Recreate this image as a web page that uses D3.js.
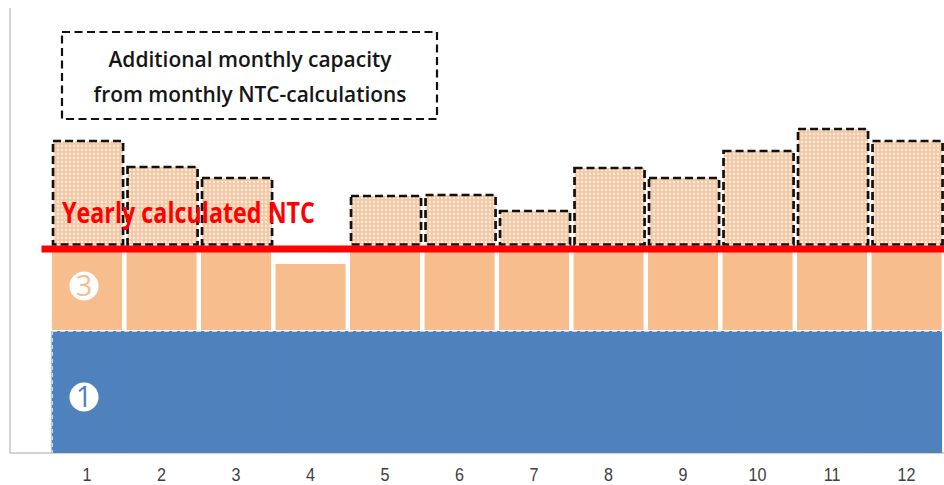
<!DOCTYPE html>
<html>
<head>
<meta charset="utf-8">
<script src="https://cdn.jsdelivr.net/npm/d3@7/dist/d3.min.js"></script>
<style>
  html, body { margin: 0; padding: 0; background: #ffffff; }
  svg { display: block; }
</style>
</head>
<body>
<script>
// Months on the x axis
const months = ["1", "2", "3", "4", "5", "6", "7", "8", "9", "10", "11", "12"];

// Capacity component ① (bottom block), per month
const baseCapacity = [122, 122, 122, 122, 122, 122, 122, 122, 122, 122, 122, 122];

// Capacity component ③ stacked on top of ①, per month
const component3 = [79, 79, 79, 67, 79, 79, 79, 79, 79, 79, 79, 79];

// Yearly calculated NTC level
const yearlyNTC = 204;

// Monthly NTC results; months without additional capacity are null
const monthlyNTC = [312, 286, 275, null, 257, 258, 242, 285, 275, 302, 324, 312];

// Text
const boxLines = ["Additional monthly capacity", "from monthly NTC-calculations"];
const ntcLabel = "Yearly calculated NTC";

const W = 944, H = 485;
const colors = {
  blue: "#4F81BD",
  orange: "#F7BD8D",
  red: "#FF0000",
  frame: "#C4C4C4",
  tick: "#404040"
};

const svg = d3.select("body").append("svg")
  .attr("width", W).attr("height", H);

const defs = svg.append("defs");
const pat = defs.append("pattern")
  .attr("id", "dots")
  .attr("patternUnits", "userSpaceOnUse")
  .attr("width", 4).attr("height", 4);
pat.append("rect").attr("width", 4).attr("height", 4).attr("fill", "#F7C6A0");
pat.append("circle").attr("cx", 2).attr("cy", 2).attr("r", 1.15).attr("fill", "#FFFFFF").attr("opacity", 0.8);
pat.append("circle").attr("cx", 0).attr("cy", 0).attr("r", 0.6).attr("fill", "#FFFFFF").attr("opacity", 0.45);
pat.append("circle").attr("cx", 4).attr("cy", 4).attr("r", 0.6).attr("fill", "#FFFFFF").attr("opacity", 0.45);

// Scales
const x = d3.scaleBand()
  .domain(months)
  .range([49.8, 943.8])
  .paddingInner(0.06)
  .paddingOuter(0.03);

const y = d3.scaleLinear()
  .domain([0, 445])
  .range([453, 8]);

const step = x.step();
const bw = x.bandwidth();

// Frame (left and bottom lines)
svg.append("line")
  .attr("x1", 10).attr("x2", 10)
  .attr("y1", y(445)).attr("y2", y(0))
  .attr("stroke", colors.frame).attr("stroke-width", 1.5);
svg.append("line")
  .attr("x1", 10).attr("x2", W)
  .attr("y1", y(0)).attr("y2", y(0))
  .attr("stroke", colors.frame).attr("stroke-width", 1.5);

// Component ① : one continuous block built from abutting monthly bars
const rows = months.map((m, i) => ({
  m, i,
  base: baseCapacity[i],
  c3: component3[i],
  monthly: monthlyNTC[i]
}));

svg.append("g").selectAll("rect")
  .data(rows)
  .join("rect")
  .attr("x", d => x(d.m) - 0.5)
  .attr("width", d => (d.i === rows.length - 1 ? bw : step) + 1)
  .attr("y", d => y(d.base))
  .attr("height", d => y(0) - y(d.base))
  .attr("fill", colors.blue);

// Dashed light border of block ①
const blockLeft = x(months[0]);
const blockRight = x(months[months.length - 1]) + bw;
svg.append("line")
  .attr("x1", blockLeft).attr("x2", blockRight)
  .attr("y1", y(baseCapacity[0])).attr("y2", y(baseCapacity[0]))
  .attr("stroke", "#EEF3FA").attr("stroke-width", 1.5)
  .attr("stroke-dasharray", "5,3");
svg.append("line")
  .attr("x1", blockLeft + 0.5).attr("x2", blockLeft + 0.5)
  .attr("y1", y(baseCapacity[0])).attr("y2", y(0))
  .attr("stroke", "#D6E1EF").attr("stroke-width", 1)
  .attr("stroke-dasharray", "4,3");

// Component ③ bars
svg.append("g").selectAll("rect")
  .data(rows)
  .join("rect")
  .attr("x", d => x(d.m))
  .attr("width", bw)
  .attr("y", d => y(d.base + d.c3))
  .attr("height", d => y(d.base) - y(d.base + d.c3) - 1)
  .attr("fill", colors.orange);

// Additional monthly capacity above the yearly NTC
const redWidth = 7;
const extra = rows.filter(d => d.monthly !== null && d.monthly > yearlyNTC);
svg.append("g").selectAll("rect")
  .data(extra)
  .join("rect")
  .attr("x", d => x(d.m) + 1)
  .attr("width", bw)
  .attr("y", d => y(d.monthly))
  .attr("height", d => y(yearlyNTC) - redWidth / 2 - 1 - y(d.monthly))
  .attr("fill", "url(#dots)")
  .attr("stroke", "#111111")
  .attr("stroke-width", 2.7)
  .attr("stroke-dasharray", "8,4");

// Yearly NTC line
svg.append("line")
  .attr("x1", 41.5).attr("x2", W)
  .attr("y1", y(yearlyNTC)).attr("y2", y(yearlyNTC))
  .attr("stroke", colors.red).attr("stroke-width", redWidth);

// Helper: fit a text element horizontally to a target width
function fitText(sel, cx, baseline, targetWidth) {
  const w = sel.node().getComputedTextLength();
  const s = targetWidth / w;
  sel.attr("x", 0).attr("y", 0)
    .attr("transform", `translate(${cx},${baseline}) scale(${s},1)`);
}

// Yearly NTC label
const ntcText = svg.append("text")
  .attr("text-anchor", "start")
  .attr("font-family", "'Open Sans', 'Noto Sans', sans-serif")
  .attr("font-weight", 700)
  .attr("font-size", 28)
  .attr("fill", colors.red)
  .text(ntcLabel);
fitText(ntcText, 62, 223, 253);

// Dashed annotation box
svg.append("rect")
  .attr("x", 62).attr("y", 32)
  .attr("width", 375).attr("height", 87)
  .attr("fill", "none")
  .attr("stroke", "#111111")
  .attr("stroke-width", 2.2)
  .attr("stroke-dasharray", "8,4.5");

const lineSpec = [
  { baseline: 67, width: 283 },
  { baseline: 102, width: 313 }
];
boxLines.forEach((t, i) => {
  const el = svg.append("text")
    .attr("text-anchor", "middle")
    .attr("font-family", "'Open Sans', 'Noto Sans', sans-serif")
    .attr("font-weight", 600)
    .attr("font-size", 21)
    .attr("fill", "#151515")
    .text(t);
  fitText(el, 250, lineSpec[i].baseline, lineSpec[i].width);
});

// Circled component markers
const markers = [
  { label: "3", cx: 84, cy: 286, color: colors.orange },
  { label: "1", cx: 84, cy: 397, color: colors.blue }
];
const mg = svg.append("g").selectAll("g")
  .data(markers)
  .join("g")
  .attr("transform", d => `translate(${d.cx},${d.cy})`);
mg.append("circle").attr("r", 14.5).attr("fill", "#FFFFFF");
mg.append("text")
  .attr("text-anchor", "middle")
  .attr("dy", "0.36em")
  .attr("font-family", "'Open Sans', 'Noto Sans', sans-serif")
  .attr("font-size", 29)
  .attr("fill", d => d.color)
  .text(d => d.label);

// X axis labels
const xAxis = d3.axisBottom(x).tickSize(0).tickSizeOuter(0);
const gx = svg.append("g")
  .attr("transform", `translate(0,${y(0)})`)
  .call(xAxis);
gx.select(".domain").remove();
gx.selectAll("text")
  .attr("y", 28).attr("dy", 0)
  .attr("transform", "scale(0.85,1)")
  .attr("font-family", "'Liberation Sans', Arial, sans-serif")
  .attr("font-size", 19)
  .attr("fill", colors.tick);
</script>
</body>
</html>
